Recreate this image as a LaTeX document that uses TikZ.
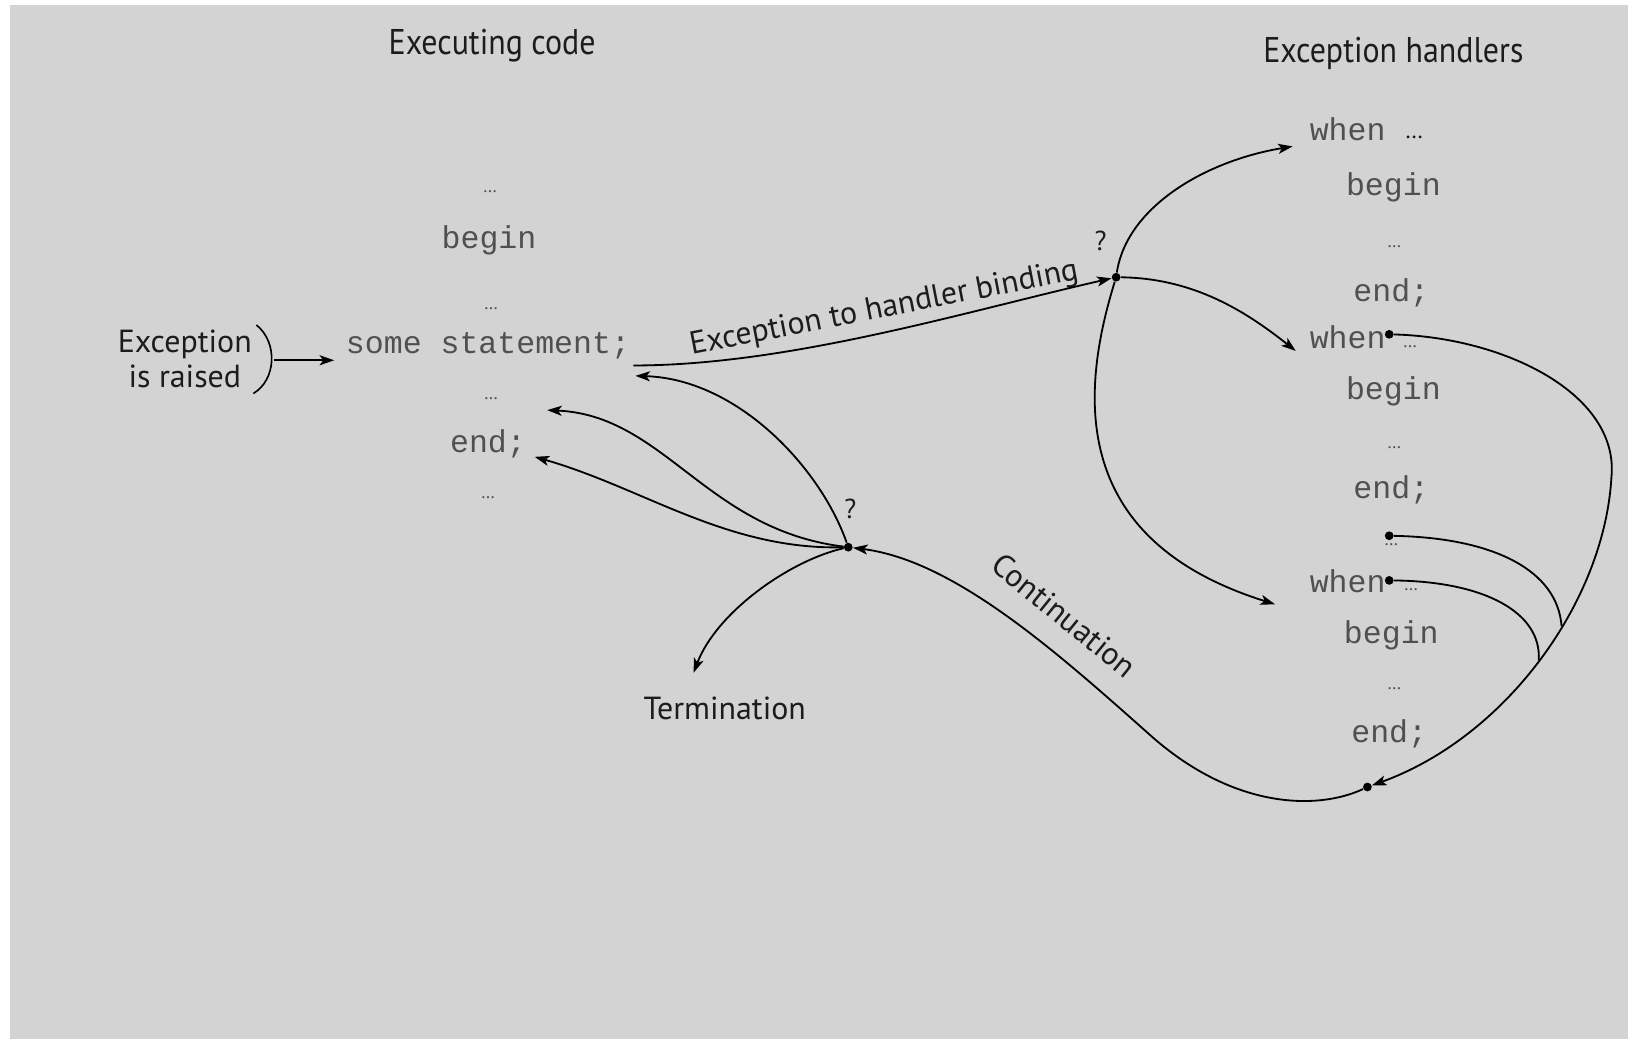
\documentclass[tikz,border=0pt]{standalone}
\usepackage{fontspec}
\setmainfont{PT Sans}
\setmonofont{Liberation Mono}
\usetikzlibrary{arrows.meta}
\definecolor{bg}{RGB}{211,211,211}
\definecolor{codecol}{RGB}{80,80,80}
\definecolor{ink}{RGB}{28,28,28}
\begin{document}
\begin{tikzpicture}[x=0.02cm,y=-0.02cm,
  hdr/.style={font=\fontsize{17.5}{20}\selectfont, text=ink, inner sep=0pt, text height=12pt, text depth=0pt},
  lbl/.style={font=\fontsize{17.5}{20}\selectfont, text=ink, inner sep=0pt, text height=12pt, text depth=0pt},
  qm/.style={font=\fontsize{15}{18}\selectfont, text=ink, inner sep=0pt},
  code/.style={font=\ttfamily\fontsize{17.3}{20}\selectfont, text=codecol, inner sep=0pt, text height=9pt, text depth=0pt},
  ell/.style={font=\fontsize{10}{11}\selectfont, text=codecol, inner sep=0pt},
  jdot/.style={circle, fill=black, inner sep=0pt, minimum size=4.8pt},
  conn/.style={draw=black, line width=1pt},
  arr/.style={conn, -{Stealth[length=8pt,width=5.5pt,inset=2pt]}},
]
\path[use as bounding box] (0,0) rectangle (1568,1001);
\fill[bg] (10,5) rectangle (1568,1001);

% headers
\node[hdr] (hExec) at (474,42) {\scalebox{1}[1.12]{Executing code}};
\node[hdr] (hHand) at (1342,50) {\scalebox{1}[1.12]{Exception handlers}};

% exception raised
\node[lbl] (excA) at (178,329) {Exception};
\node[lbl] (excB) at (178,363) {is raised};
\draw[conn, line width=0.9pt] (247,313) .. controls (268,330) and (266,366) .. (244,379);
\coordinate (brk) at (264,347);

% left code column
\node[ell] (l1) at (472,185) {\ldots};
\node[code] (lbegin) at (471,231) {begin};
\node[ell] (l3) at (473,297) {\ldots};
\node[code] (stmt) at (470,333) {some statement;};
\node[ell] (l5) at (473,384) {\ldots};
\node[code] (lend) at (470,428) {end;};
\node[ell] (l7) at (470,479) {\ldots};

% right code column
\node[code] (w1) at (1298,127) {when};
\node[ell, font=\fontsize{13}{14}\selectfont, text=ink] (w1d) at (1362,132) {\ldots};
\node[code] (rb1) at (1342,180) {begin};
\node[ell] (r1d) at (1343,238) {\ldots};
\node[code] (re1) at (1340,282) {end;};
\node[code] (w2) at (1298,328) {when};
\node[ell] (w2d) at (1358,334) {\ldots};
\node[code] (rb2) at (1342,377) {begin};
\node[ell] (r2d) at (1343,431) {\ldots};
\node[code] (re2) at (1340,472) {end;};
\node[ell] (r3d) at (1340,525) {\ldots};
\node[code] (w3) at (1298,563) {when};
\node[ell] (w3d) at (1359,568) {\ldots};
\node[code] (rb3) at (1340,612) {begin};
\node[ell] (r4d) at (1343,663) {\ldots};
\node[code] (re3) at (1338,707) {end;};

% junction dots
\node[jdot] (bd) at (1075,267) {};
\node[jdot] (cd) at (817,527) {};
\node[jdot] (p2) at (1338,322) {};
\node[jdot] (p3) at (1338,516) {};
\node[jdot] (p4) at (1338,559) {};
\node[jdot] (p5) at (1317,758) {};
\node[qm] (q1) at (1060,232) {?};
\node[qm] (q2) at (819,490) {?};

% labels
\node[lbl, rotate=11] (bind) at (851,295) {Exception to handler binding};
\node[lbl, rotate=-39] (cont) at (1025,593) {Continuation};
\node[lbl] (term) at (698,682) {Termination};

% tip coordinates
\coordinate (bstart) at (610,352);
\coordinate (tw1) at (1245,141);
\coordinate (tw2) at (1248,338);
\coordinate (tw3) at (1228,582);
\coordinate (tstmt) at (612,362);
\coordinate (tdots) at (527,395);
\coordinate (tend) at (515,440);
\coordinate (tterm) at (668,648);
\coordinate (j1) at (1504,603);
\coordinate (j2) at (1482,636);

% connectors
\draw[arr] (brk) -- ([xshift=-0.22cm]stmt.west |- brk);
\draw[arr] (bstart) .. controls (760,352) and (930,300) .. (bd);
\draw[arr] (bd) .. controls (1085,200) and (1160,155) .. (tw1);
\draw[arr] (bd) .. controls (1150,268) and (1200,300) .. (tw2);
\draw[arr] (bd) .. controls (1040,380) and (1030,520) .. (tw3);
\draw[arr] (p2) .. controls (1450,325) and (1560,380) .. (1552,460)
                .. controls (1545,580) and (1450,710) .. (p5);
\draw[conn] (p3) .. controls (1440,518) and (1500,550) .. (j1);
\draw[conn] (p4) .. controls (1430,560) and (1485,590) .. (j2);
\draw[arr] (p5) .. controls (1270,780) and (1190,780) .. (1110,710)
                .. controls (1020,630) and (920,540) .. (cd);
\draw[arr] (cd) .. controls (790,450) and (710,365) .. (tstmt);
\draw[arr] (cd) .. controls (680,510) and (640,400) .. (tdots);
\draw[arr] (cd) .. controls (700,530) and (620,470) .. (tend);
\draw[arr] (cd) .. controls (760,540) and (690,590) .. (tterm);
\end{tikzpicture}
\end{document}
